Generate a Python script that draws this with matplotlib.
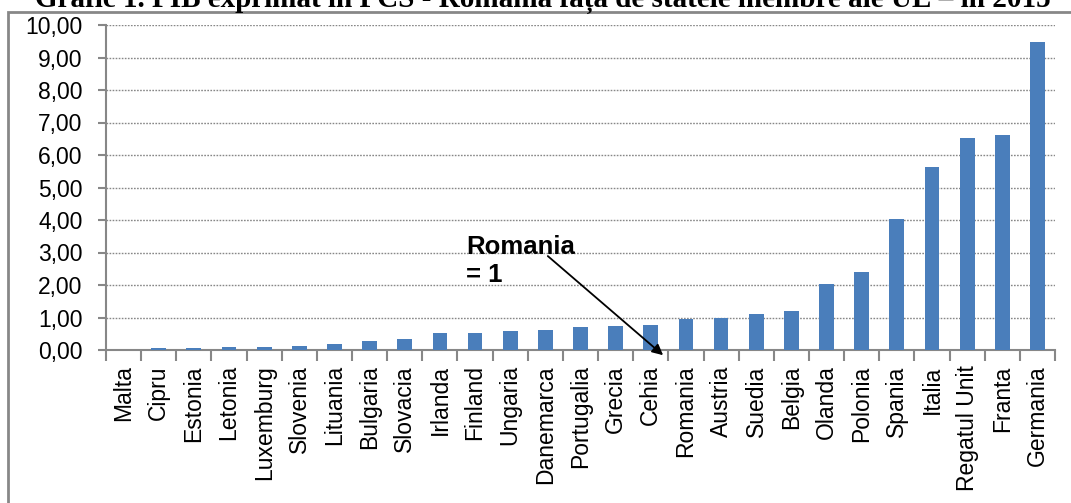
import matplotlib
matplotlib.use("Agg")
import matplotlib.pyplot as plt
from matplotlib.patches import Rectangle

countries = ["Malta", "Cipru", "Estonia", "Letonia", "Luxemburg", "Slovenia",
             "Lituania", "Bulgaria", "Slovacia", "Irlanda", "Finland", "Ungaria",
             "Danemarca", "Portugalia", "Grecia", "Cehia", "Romania", "Austria",
             "Suedia", "Belgia", "Olanda", "Polonia", "Spania", "Italia",
             "Regatul Unit", "Franta", "Germania"]
values = [0.00, 0.05, 0.07, 0.10, 0.10, 0.13,
          0.17, 0.29, 0.35, 0.52, 0.52, 0.58,
          0.62, 0.71, 0.74, 0.77, 0.96, 0.98,
          1.11, 1.20, 2.03, 2.40, 4.03, 5.63,
          6.52, 6.62, 9.48]
yticks = [0, 1, 2, 3, 4, 5, 6, 7, 8, 9, 10]
title = "Grafic 1. PIB exprimat în PCS - Romania fața de statele membre ale UE – în 2015"

W, H = 1071, 503
fig = plt.figure(figsize=(W / 100, H / 100), dpi=100)
plt.rcParams['font.family'] = ['Liberation Sans', 'DejaVu Sans']

n = len(countries)
left, right, top, bottom = 106, 1055, 25, 350
ax = fig.add_axes([left / W, 1 - bottom / H, (right - left) / W, (bottom - top) / H])

gray = '#878787'
blue = '#4A7EBB'
x = list(range(n))
ax.bar(x, values, width=0.42, color=blue, zorder=3)

ax.set_xlim(-0.5, n - 0.5)
ax.set_ylim(0, 10)
ax.set_yticks(yticks)
ax.set_yticklabels([f"{v:.2f}".replace('.', ',') for v in yticks], fontsize=16.5)
ax.set_xticks(x)
ax.set_xticklabels(countries, rotation=90, fontsize=16.5)
ax.set_xticks([i - 0.5 for i in range(n + 1)], minor=True)
ax.tick_params(axis='x', which='major', length=0, pad=11)
ax.tick_params(axis='x', which='minor', length=8, color=gray, width=1.5, direction='out')
ax.tick_params(axis='y', length=6, color=gray, width=1.5, pad=11)

for v in yticks[1:]:
    ax.axhline(v, color=gray, lw=1.0, linestyle=(0, (1.2, 1.0)), zorder=1)

for s in ['top', 'right']:
    ax.spines[s].set_visible(False)
for s in ['left', 'bottom']:
    ax.spines[s].set_color(gray)
    ax.spines[s].set_linewidth(1.5)
    ax.spines[s].set_zorder(2)

# annotation
ax.text(9.74, 2.95, "Romania", fontsize=18.5, fontweight='bold', ha='left', va='baseline')
ax.text(9.74, 2.09, "= 1", fontsize=18.5, fontweight='bold', ha='left', va='baseline')
ax.annotate('', xy=(15.35, -0.16), xytext=(12.07, 2.89), xycoords='data',
            textcoords='data', annotation_clip=False,
            arrowprops=dict(arrowstyle='-|>', color='black', lw=1.3,
                            mutation_scale=16, shrinkA=0, shrinkB=0))

# outer frame
fig.patches.append(Rectangle((8 / W, -0.2), 1.2, (1 - 12 / H) + 0.2,
                             transform=fig.transFigure, fill=False,
                             edgecolor=gray, lw=2))

# title (clipped at top, as in the reference)
t = fig.text(35 / W, 1 - 7 / H, title, fontsize=17, fontweight='bold',
             family=['Liberation Serif', 'DejaVu Serif'], ha='left', va='baseline')
fig.canvas.draw()
wpx = t.get_window_extent().width
t.set_fontsize(17 * (1018 / wpx))

fig.savefig("out.png", dpi=100)
